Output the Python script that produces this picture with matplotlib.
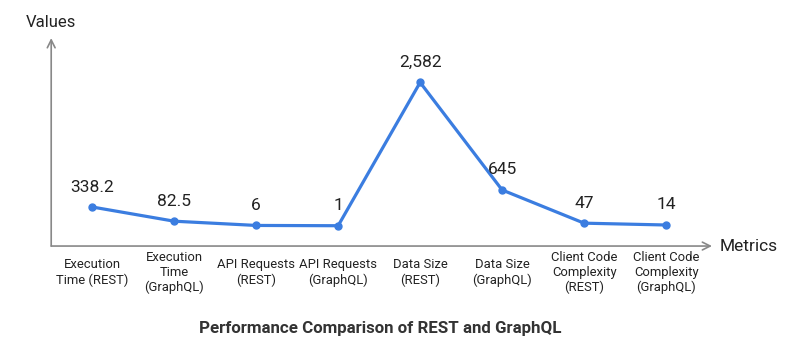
import matplotlib.pyplot as plt

plt.rcParams['font.family'] = ['Roboto', 'DejaVu Sans']

# Метрики и значения
metrics = [
    'Execution\nTime (REST)', 'Execution\nTime\n(GraphQL)',
    'API Requests\n(REST)', 'API Requests\n(GraphQL)',
    'Data Size\n(REST)', 'Data Size\n(GraphQL)',
    'Client Code\nComplexity\n(REST)', 'Client Code\nComplexity\n(GraphQL)',
]
values = [338.2, 82.5, 6, 1, 2582, 645, 47, 14]

line_color = '#3b7de0'
axis_color = '#888888'
text_color = '#222222'

fig = plt.figure(figsize=(8, 3.53), dpi=100)
ax = fig.add_axes([0.064, 0.303, 0.826, 0.589])

x = list(range(len(values)))
ax.plot(x, values, color=line_color, linewidth=2.3, marker='o', markersize=5,
        solid_joinstyle='round')

for xi, v in zip(x, values):
    ax.annotate(f'{v:,g}', (xi, v), textcoords='offset points', xytext=(0, 9),
                ha='center', va='bottom', fontsize=12.5, color=text_color)

ax.set_xlim(-0.5, 7.56)
ax.set_ylim(-365, 3380)

# Оси со стрелками вместо рамки
for s in ax.spines.values():
    s.set_visible(False)
ax.annotate('', xy=(0, 1), xytext=(0, 0), xycoords='axes fraction',
            arrowprops=dict(arrowstyle='->', color=axis_color, lw=1.2,
                            shrinkA=0, shrinkB=0, mutation_scale=14))
ax.annotate('', xy=(1, 0), xytext=(0, 0), xycoords='axes fraction',
            arrowprops=dict(arrowstyle='->', color=axis_color, lw=1.2,
                            shrinkA=0, shrinkB=0, mutation_scale=14))

ax.set_yticks([])
ax.set_xticks(x)
ax.set_xticklabels(metrics, fontsize=9.4, color=text_color, linespacing=1.2)
ax.tick_params(axis='x', length=0, pad=19)
for lbl in ax.get_xticklabels():
    lbl.set_verticalalignment('center')

ax.text(0, 1.04, 'Values', transform=ax.transAxes, ha='center', va='bottom',
        fontsize=12, color=text_color)
ax.text(1.012, 0, 'Metrics', transform=ax.transAxes, ha='left', va='center',
        fontsize=12.5, color=text_color)

fig.text(0.475, 0.07, 'Performance Comparison of REST and GraphQL',
         ha='center', va='center', fontsize=12.2, fontweight='bold', color='#333333')

fig.savefig('out.png', dpi=100)
